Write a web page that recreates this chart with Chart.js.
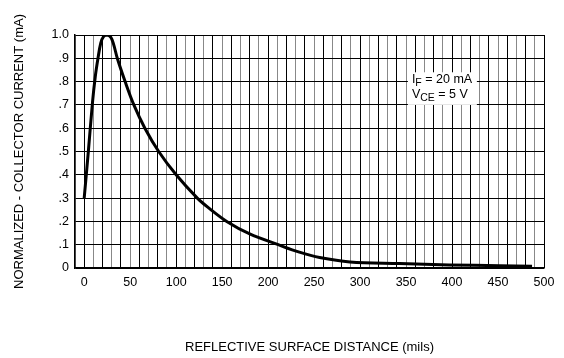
<!DOCTYPE html>
<html>
<head>
<meta charset="utf-8">
<script src="https://cdn.jsdelivr.net/npm/chart.js@4/dist/chart.umd.min.js"></script>
<style>
  html, body { margin: 0; padding: 0; background: #fff; }
  #wrap { position: relative; width: 564px; height: 358px; }
</style>
</head>
<body>
<div id="wrap"><canvas id="chart"></canvas></div>
<script>
// ── Data ──────────────────────────────────────────────────
const distance = [0, 4.5, 9, 12, 15, 18, 21, 25, 29, 32, 36, 44.5, 54, 66, 81, 100, 123, 136, 155, 180, 211, 234, 256, 289, 343, 397, 452, 487]
const current  = [0.30, 0.50, 0.71, 0.82, 0.90, 0.965, 0.993, 1.0, 0.99, 0.96, 0.90, 0.80, 0.70, 0.60, 0.50, 0.40, 0.30, 0.256, 0.20, 0.146, 0.10, 0.068, 0.045, 0.026, 0.019, 0.013, 0.010, 0.008]
const xLabels  = [0, 50, 100, 150, 200, 250, 300, 350, 400, 450, 500]
const yLabels  = ['0', '.1', '.2', '.3', '.4', '.5', '.6', '.7', '.8', '.9', '1.0']
const noteLines = [['I', 'F', ' = 20 mA'], ['V', 'CE', ' = 5 V']]

const FONT = "'Liberation Sans', Arial, sans-serif"

// белая плашка с условиями измерения (в координатах данных)
const noteBox = {
  id: 'noteBox',
  beforeDatasetsDraw(chart) {
    const { ctx, scales: { x, y } } = chart
    const l = x.getPixelForValue(352), r = x.getPixelForValue(427)
    const t = y.getPixelForValue(0.84), b = y.getPixelForValue(0.70)
    ctx.save()
    ctx.fillStyle = '#fff'
    ctx.fillRect(l, t, r - l, b - t)
    ctx.fillStyle = '#000'
    ctx.textBaseline = 'alphabetic'
    noteLines.forEach((ln, i) => {
      let px = l + 4
      const py = t + 11 + i * 15
      ctx.font = `12.5px ${FONT}`
      ctx.fillText(ln[0], px, py); px += ctx.measureText(ln[0]).width
      ctx.font = `10.5px ${FONT}`
      ctx.fillText(ln[1], px, py + 3); px += ctx.measureText(ln[1]).width
      ctx.font = `12.5px ${FONT}`
      ctx.fillText(ln[2], px, py)
    })
    ctx.restore()
  }
}

new Chart(document.getElementById('chart'), {
  type: 'scatter',
  data: {
    datasets: [{
      data: distance.map((d, i) => ({ x: d, y: current[i] })),
      showLine: true,
      borderColor: '#000',
      borderWidth: 3,
      pointRadius: 0,
      tension: 0.35,
    }]
  },
  options: {
    responsive: true, maintainAspectRatio: false, animation: false,
    layout: { padding: { top: 35, right: 20, left: 0, bottom: 0 } },
    plugins: { legend: { display: false }, tooltip: { enabled: false } },
    scales: {
      x: {
        type: 'linear', min: -10, max: 500,
        afterFit: s => { s.height = 90 },
        border: { color: '#000', width: 1.5 },
        grid: { drawTicks: false, color: c => (Math.round(c.tick.value / 10) % 2 ? '#888' : '#000') },
        ticks: {
          stepSize: 10, autoSkip: false, maxRotation: 0, padding: 7,
          color: '#000', font: { family: FONT, size: 12.5 },
          callback: v => xLabels.includes(v) ? String(v) : ''
        },
        title: { display: true, text: 'REFLECTIVE SURFACE DISTANCE (mils)', color: '#000',
                 font: { family: FONT, size: 13 }, padding: { top: 0, bottom: 3 } }
      },
      y: {
        min: 0, max: 1,
        afterFit: s => { s.width = 75 },
        border: { color: '#000', width: 1.5 },
        grid: { drawTicks: false, color: '#000' },
        ticks: {
          stepSize: 0.1, autoSkip: false, padding: 6,
          color: '#000', font: { family: FONT, size: 12.5 },
          callback: v => yLabels[Math.round(v * 10)]
        },
        title: { display: true, text: 'NORMALIZED - COLLECTOR CURRENT (mA)', color: '#000',
                 font: { family: FONT, size: 13 }, padding: { top: 12, bottom: 0 } }
      }
    }
  },
  plugins: [noteBox]
})
</script>
</body>
</html>
